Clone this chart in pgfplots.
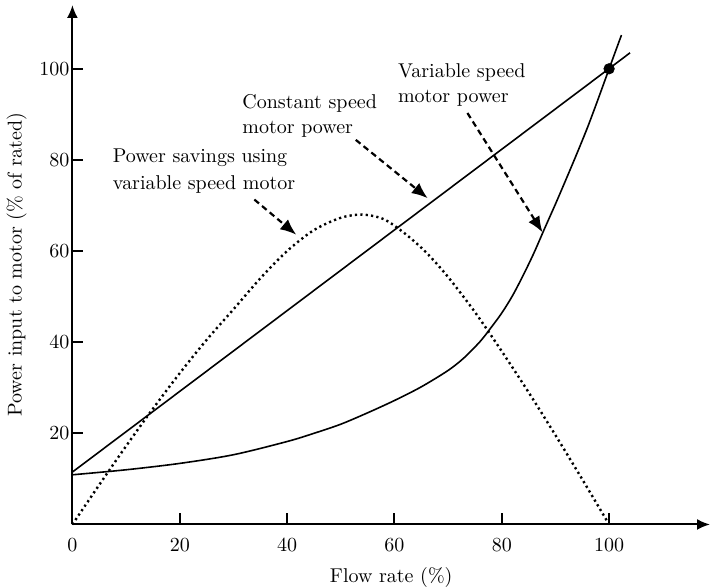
\documentclass[border=0pt]{standalone}
\usepackage{pgfplots}
\pgfplotsset{compat=1.18}
\usetikzlibrary{arrows.meta}

\begin{document}
\begin{tikzpicture}
\begin{axis}[
    scale only axis,
    width=319pt,
    height=259.9pt,
    xmin=0, xmax=118.8,
    ymin=0, ymax=114,
    axis lines=left,
    axis line style={line width=1pt, -{Latex[length=6.5pt,width=5.5pt]}},
    xtick={0,20,40,60,80,100},
    ytick={20,40,60,80,100},
    tick align=inside,
    major tick length=5.5pt,
    tick style={line width=1pt, black},
    xticklabel style={yshift=-3.5pt},
    yticklabel style={xshift=2pt},
    xlabel={Flow rate (\%)},
    ylabel={Power input to motor (\% of rated)},
    ylabel style={yshift=-0.5pt},
    xlabel style={at={(axis description cs:0.5,0)}, anchor=north, inner sep=0pt, yshift=-21.5pt},
    clip=false,
]

% variable speed motor power
\addplot[black, line width=0.8pt, smooth, tension=0.5] coordinates {
    (0,10.9) (10,12.0) (20,13.4) (30,15.3) (40,18.2) (45,20.0)
    (50,22.0) (55,24.5) (60,27.2) (65,30.2) (70,33.8) (73,36.6)
    (76,40.2) (78,43.2) (80,46.4) (82,50.2) (84,54.7) (86,59.6)
    (88,65.0) (90,70.3) (92,75.8) (94,81.4) (96,87.2) (98,93.5)
    (100,100) (102.3,107.4)
};

% constant speed motor power
\addplot[black, line width=0.8pt] coordinates {
    (0,11.5) (103.9,103.5)
};

% power savings
\addplot[black, line width=1.2pt, dash pattern=on 1.1pt off 1.6pt, smooth, tension=0.5] coordinates {
    (0,0) (5,8.7) (10,17.2) (15,25.4) (20,33.2) (25,40.5) (30,47.2)
    (35,54.0) (40,60.0) (45,64.6) (50,67.3) (54,68.0) (58,67.0)
    (62,63.8) (66,59.6) (70,54.3) (75,46.6) (80,38.0) (85,29.0)
    (90,19.6) (95,9.9) (100,0)
};

% rated point
\addplot[black, only marks, mark=*, mark size=2.6pt] coordinates {(100,100)};

% labels
\node[anchor=west, align=left, inner sep=0pt, font=\fontsize{10}{13.5}\selectfont]
    at (axis cs:7.45,77.5) {Power savings using\\variable speed motor};
\node[anchor=west, align=left, inner sep=0pt, font=\fontsize{10}{12.5}\selectfont]
    at (axis cs:31.6,89.7) {Constant speed\\motor power};
\node[anchor=west, align=left, inner sep=0pt, font=\fontsize{10}{12.5}\selectfont]
    at (axis cs:60.6,96.5) {Variable speed\\motor power};

% pointer arrows
\draw[line width=1.1pt, dash pattern=on 3pt off 2pt, -{Latex[length=8pt,width=6.5pt]}]
    (axis cs:33.9,71.3) -- (axis cs:41.7,63.6);
\draw[line width=1.1pt, dash pattern=on 3pt off 2pt, -{Latex[length=8pt,width=6.5pt]}]
    (axis cs:52.8,84.4) -- (axis cs:66.2,71.6);
\draw[line width=1.1pt, dash pattern=on 3pt off 2pt, -{Latex[length=8pt,width=6.5pt]}]
    (axis cs:73.6,90.3) -- (axis cs:87.6,64.1);

% top margin
\path (axis cs:0,114) ++(0,2.5pt);

\end{axis}
\end{tikzpicture}
\end{document}
